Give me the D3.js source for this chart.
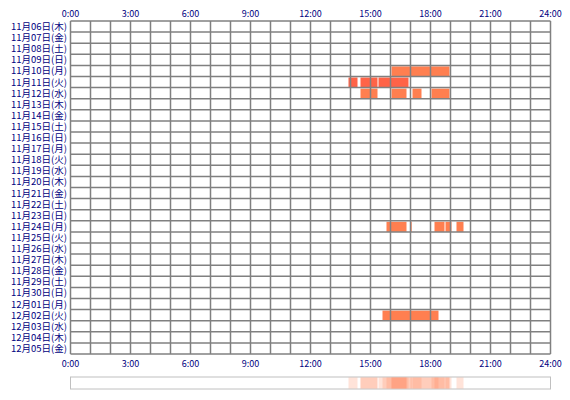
<!DOCTYPE html>
<html><head><meta charset="utf-8">
<script src="https://cdn.jsdelivr.net/npm/d3@7"></script>
<style>body{margin:0;background:#fff}</style>
</head><body>
<script>
const days = ["11月06日(木)","11月07日(金)","11月08日(土)","11月09日(日)","11月10日(月)","11月11日(火)","11月12日(水)","11月13日(木)","11月14日(金)","11月15日(土)","11月16日(日)","11月17日(月)","11月18日(火)","11月19日(水)","11月20日(木)","11月21日(金)","11月22日(土)","11月23日(日)","11月24日(月)","11月25日(火)","11月26日(水)","11月27日(木)","11月28日(金)","11月29日(土)","11月30日(日)","12月01日(月)","12月02日(火)","12月03日(水)","12月04日(木)","12月05日(金)"]
const hourTicks = [0, 3, 6, 9, 12, 15, 18, 21, 24]
// sessions: [day index, start hour, end hour, color]
const sessions = [
  [4, 16.05, 18.95, "#ff7f50"],
  [5, 13.9, 14.35, "#ff6347"],
  [5, 14.5, 15.35, "#ff6347"],
  [5, 15.4, 16.9, "#ff6347"],
  [6, 14.5, 15.35, "#ff7f50"],
  [6, 16.05, 16.8, "#ff7f50"],
  [6, 17.1, 17.55, "#ff7f50"],
  [6, 18.05, 18.95, "#ff7f50"],
  [18, 15.8, 16.8, "#ff7f50"],
  [18, 17.0, 17.06, "#ff7f50"],
  [18, 18.2, 18.7, "#ff7f50"],
  [18, 18.75, 19.05, "#ff7f50"],
  [18, 19.3, 19.65, "#ff7f50"],
  [26, 15.6, 18.4, "#ff7f50"]
]

const svg = d3.select("body").append("svg").attr("width", 570).attr("height", 400)
  .style("font", "9px 'Noto Sans CJK JP', sans-serif")

const x = d3.scaleLinear().domain([0, 24]).range([70.5, 550.5])
const y = d3.scaleBand().domain(days.map((d, i) => i)).range([21, 354])

const bars = svg.append("g")
bars.selectAll("rect").data(sessions).join("rect")
  .attr("x", (d) => x(d[1])).attr("width", (d) => x(d[2]) - x(d[1]))
  .attr("y", (d) => y(d[0]) + 1).attr("height", y.bandwidth() - 1)
  .attr("fill", (d) => d[3])

const grid = svg.append("g").attr("stroke", "#808080").attr("stroke-width", 1.5)
grid.selectAll(".v").data(d3.range(0, 25)).join("line")
  .attr("x1", (d) => x(d)).attr("x2", (d) => x(d)).attr("y1", y.range()[0]).attr("y2", y.range()[1])
grid.selectAll(".h").data(d3.range(0, days.length + 1)).join("line")
  .attr("y1", (d) => y.range()[0] + d * y.step()).attr("y2", (d) => y.range()[0] + d * y.step())
  .attr("x1", x(0)).attr("x2", x(24))

svg.append("g").selectAll("text").data(days).join("text")
  .attr("x", 67).attr("y", (d, i) => y(i) + y.bandwidth() / 2 + 3.5)
  .attr("text-anchor", "end").attr("fill", "#000080").style("font-size", "9.5px").text((d) => d)

const fmt = (h) => h + ":00"
for (const ty of [17, 367]) {
  svg.append("g").selectAll("text").data(hourTicks).join("text")
    .attr("x", (d) => x(d)).attr("y", ty).attr("text-anchor", "middle")
    .attr("fill", "#000080").style("font-size", "9px").text((d) => fmt(d === 0 ? "0" : d))
}

// summary strip
svg.append("rect").attr("x", x(0)).attr("y", 377).attr("width", x(24) - x(0)).attr("height", 12)
  .attr("fill", "#fff").attr("stroke", "#c0c0c0")
svg.append("g").selectAll("rect").data(sessions).join("rect")
  .attr("x", (d) => x(d[1])).attr("width", (d) => x(d[2]) - x(d[1]))
  .attr("y", 377.5).attr("height", 11)
  .attr("fill", "#ff7f50").attr("opacity", 0.22)
</script>
</body></html>
